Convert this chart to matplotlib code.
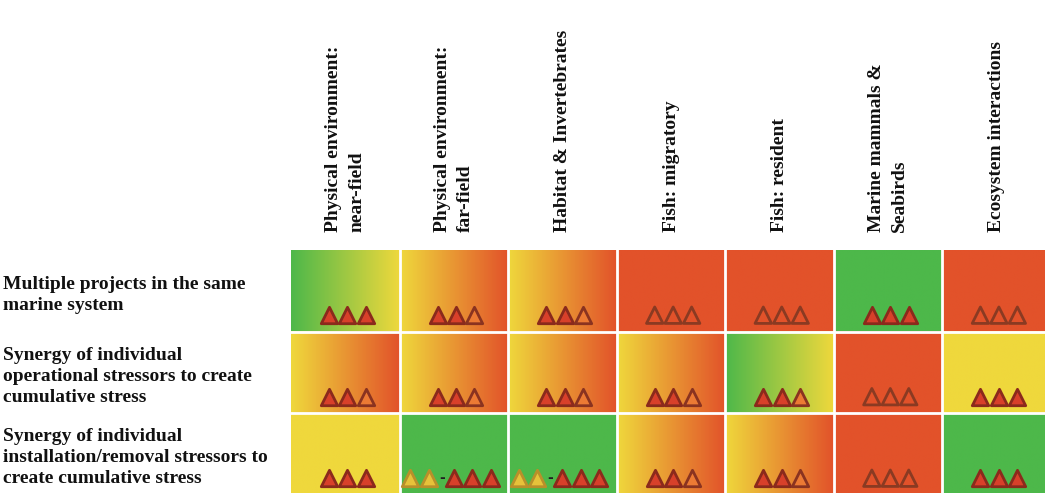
import numpy as np
import matplotlib
matplotlib.use("Agg")
import matplotlib.pyplot as plt
from matplotlib.colors import LinearSegmentedColormap
from matplotlib.transforms import blended_transform_factory

columns = ["Physical environment:\nnear-field", "Physical environment:\nfar-field",
           "Habitat & Invertebrates", "Fish: migratory", "Fish: resident",
           "Marine mammals &\nSeabirds", "Ecosystem interactions"]
rows = ["Multiple projects in the same\nmarine system",
        "Synergy of individual\noperational stressors to create\ncumulative stress",
        "Synergy of individual\ninstallation/removal stressors to\ncreate cumulative stress"]

# cell colour: left end / right end of the gradient (G green, Y yellow, R red)
left_col = [["G", "Y", "Y", "R", "R", "G", "R"],
            ["Y", "Y", "Y", "Y", "G", "R", "Y"],
            ["Y", "G", "G", "Y", "Y", "R", "G"]]
right_col = [["Y", "R", "R", "R", "R", "G", "R"],
             ["R", "R", "R", "R", "Y", "R", "Y"],
             ["Y", "G", "G", "R", "R", "R", "G"]]
# confidence triangles: F filled, L lighter, O open, Y yellow, - dash
marks = [["FFF", "FFL", "FFL", "OOO", "OOO", "FFF", "OOO"],
         ["FFL", "FFL", "FFL", "FFL", "FFL", "OOO", "FFF"],
         ["FFF", "YY-FFF", "YY-FFF", "FFL", "FFL", "OOO", "FFF"]]

palette = {"G": "#4db84a", "Y": "#efd83c", "R": "#e2522a"}
tri_style = {"F": ("#d8402a", "#8a2a1c"),
             "L": ("#ec7a34", "#8a3320"),
             "O": ("none", "#8a3a22"),
             "Y": ("#e6c23a", "#b8902a")}

fig = plt.figure(figsize=(10.45, 4.93), dpi=100)
ax = fig.add_axes([291 / 1045, -1.5 / 493, 760 / 1045, 244.5 / 493])
ax.set_xlim(0, 7)
ax.set_ylim(3, 0)
ax.axis("off")

grad = np.linspace(0, 1, 200).reshape(1, -1)
for r in range(3):
    for c in range(7):
        cmap = LinearSegmentedColormap.from_list(
            "g", [palette[left_col[r][c]], palette[right_col[r][c]]])
        ax.imshow(grad, cmap=cmap, extent=(c, c + 1, r + 1, r),
                  aspect="auto", interpolation="bilinear")
        m = marks[r][c]
        if len(m) == 3:
            xs = [0.35, 0.52, 0.69]
        else:
            xs = [0.10, 0.27, 0.39, 0.50, 0.67, 0.84]
        for k, ch in enumerate(m):
            if ch == "-":
                ax.text(c + xs[k], r + 0.80, "-", ha="center", va="center",
                        fontsize=10, fontweight="bold", color="#202020")
                continue
            fc, ec = tri_style[ch]
            ax.scatter(c + xs[k], r + 0.80, marker="^", s=140, facecolor=fc,
                       edgecolor=ec, linewidth=2.0, zorder=3)

for c in range(1, 7):
    ax.axvline(c, color="white", lw=2)
for r in range(1, 3):
    ax.axhline(r, color="white", lw=2)
ax.set_xlim(0, 7)
ax.set_ylim(3, 0)

font = ["Liberation Serif", "DejaVu Serif"]
for c, name in enumerate(columns):
    ax.text(c + 0.5, -0.22, name, rotation=90, ha="center", va="bottom",
            multialignment="left", fontsize=14, fontweight="bold",
            family=font, color="#111111", linespacing=1.45)

tr = blended_transform_factory(fig.transFigure, ax.transData)
for r, name in enumerate(rows):
    ax.text(3 / 1045, r + 0.55, name, transform=tr, ha="left", va="center",
            fontsize=14, fontweight="bold", family=font, color="#111111",
            linespacing=1.3)

fig.savefig("out.png", dpi=100)
